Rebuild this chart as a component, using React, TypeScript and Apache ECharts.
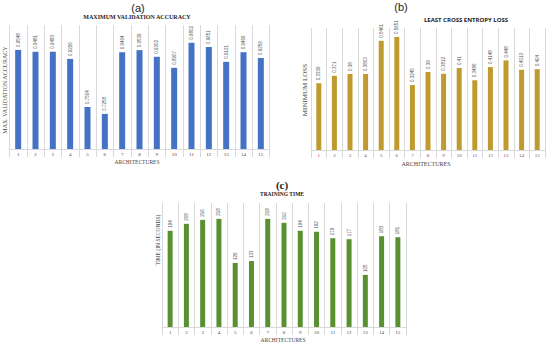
import React, { useEffect, useRef } from "react";
import * as echarts from "echarts";

const categories = ["1","2","3","4","5","6","7","8","9","10","11","12","13","14","15"];
const accuracyValues = [0.9548, 0.9481, 0.9483, 0.9226, 0.7504, 0.7258, 0.9464, 0.9539, 0.9302, 0.8907, 0.9802, 0.9651, 0.9121, 0.9466, 0.9259];
const lossValues = [0.3339, 0.371, 0.38, 0.3803, 0.5461, 0.5651, 0.3245, 0.39, 0.3812, 0.41, 0.3486, 0.4148, 0.448, 0.4013, 0.404];
const timeValues = [194, 208, 216, 218, 129, 133, 218, 210, 194, 192, 179, 177, 105, 183, 181];

const gridLine = "#d9d9d9";

function xAxisFor(gridIndex: number, labelColor: string) {
  return {
    type: "category",
    gridIndex,
    data: categories,
    boundaryGap: true,
    axisLine: { show: true, lineStyle: { color: gridLine, width: 1 } },
    axisTick: { show: true, length: 8, lineStyle: { color: gridLine } },
    splitLine: { show: true, lineStyle: { color: gridLine, width: 1 } },
    axisLabel: { fontSize: 5, color: labelColor, margin: 3, fontFamily: "Liberation Serif", interval: 0 },
  };
}

function yAxisFor(gridIndex: number, min: number, max: number) {
  return {
    type: "value",
    gridIndex,
    min,
    max,
    show: true,
    axisLine: { show: false },
    axisTick: { show: false },
    axisLabel: { show: false },
    splitLine: { show: false },
  };
}

function barLabel(fmt: (v: number) => string) {
  return {
    show: true,
    position: "top",
    rotate: 90,
    align: "left",
    verticalAlign: "middle",
    distance: 3,
    fontSize: 4.5,
    color: "#555",
    fontFamily: "Liberation Sans",
    formatter: (p: any) => fmt(p.value),
  };
}

function txt(x: number, y: number, text: string, fontSize: number, fontFamily: string, fontWeight: string, rotate = 0, color = "#222") {
  return {
    type: "text",
    x,
    y,
    rotation: rotate,
    style: { text, fontSize, fontFamily, fontWeight, fill: color, align: "center", verticalAlign: "middle" },
  };
}

export default function App() {
  const ref = useRef<HTMLDivElement>(null);
  useEffect(() => {
    if (!ref.current) return;
    const chart = echarts.init(ref.current, null, { renderer: "svg" });
    chart.setOption({
      animation: false,
      backgroundColor: "#ffffff",
      grid: [
        { left: 9.5, top: 25, width: 260, height: 124 },
        { left: 311, top: 28, width: 234, height: 122 },
        { left: 162, top: 203, width: 244, height: 124 },
      ],
      xAxis: [xAxisFor(0, "#444"), xAxisFor(1, "#8a3c6e"), xAxisFor(2, "#444")],
      yAxis: [yAxisFor(0, 0.6, 1.044), yAxisFor(1, 0, 0.61), yAxisFor(2, 0, 250)],
      series: [
        {
          type: "bar",
          xAxisIndex: 0,
          yAxisIndex: 0,
          data: accuracyValues,
          barWidth: 6,
          itemStyle: { color: "#4472c4" },
          label: barLabel((v) => v.toFixed(4)),
        },
        {
          type: "bar",
          xAxisIndex: 1,
          yAxisIndex: 1,
          data: lossValues,
          barWidth: 5,
          itemStyle: { color: "#bf9a2e" },
          label: barLabel((v) => String(v)),
        },
        {
          type: "bar",
          xAxisIndex: 2,
          yAxisIndex: 2,
          data: timeValues,
          barWidth: 5,
          itemStyle: { color: "#5a9130" },
          label: barLabel((v) => String(v)),
        },
      ],
      graphic: [
        txt(138, 8, "(a)", 11, "Liberation Sans", "normal"),
        txt(137, 17, "MAXIMUM VALIDATION ACCURACY", 6, "Liberation Serif", "bold"),
        txt(137, 162, "ARCHITECTURES", 5.5, "Liberation Serif", "normal", 0, "#444"),
        txt(5, 90, "MAX. VALIDATION ACCURACY", 6, "Liberation Serif", "normal", Math.PI / 2, "#444"),

        txt(401, 7, "(b)", 11, "Liberation Sans", "normal"),
        txt(466, 20, "LEAST CROSS ENTROPY LOSS", 6, "Open Sans", "bold"),
        txt(426, 164, "ARCHITECTURES", 6, "Liberation Serif", "normal", 0, "#444"),
        txt(305, 90, "MINIMUM LOSS", 7, "Liberation Serif", "normal", Math.PI / 2, "#444"),

        txt(282, 185, "(c)", 11, "Liberation Serif", "bold"),
        txt(282, 194, "TRAINING TIME", 5.5, "Liberation Serif", "bold"),
        txt(283, 340, "ARCHITECTURES", 5.5, "Liberation Serif", "normal", 0, "#444"),
        txt(158, 240, "TIME (IN SECONDS)", 5.5, "Liberation Serif", "normal", Math.PI / 2, "#444"),
      ],
    });
    return () => chart.dispose();
  }, []);
  return <div ref={ref} style={{ position: "fixed", left: 0, top: 0, width: 550, height: 345 }} />;
}
